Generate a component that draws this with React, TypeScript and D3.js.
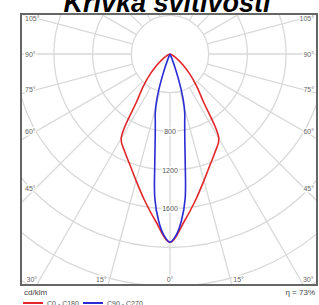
import { useEffect, useRef } from "react";
import * as d3 from "d3";

// Luminous intensity (cd/klm) per gamma angle, 0° = straight down
const redAngles = [0, 5, 10, 15, 20, 25, 30, 35, 40, 45, 50, 55, 60, 65, 70, 75, 80, 85, 90];
const redValues = [1945, 1730, 1530, 1355, 1215, 1110, 1010, 600, 420, 280, 170, 100, 50, 25, 12, 5, 0, 0, 0];

const blueAngles = [0, 2, 4, 6, 8, 10, 12, 14, 16, 18, 20, 22, 24, 26, 30, 90];
const blueValues = [1945, 1870, 1720, 1500, 1130, 880, 730, 630, 500, 330, 170, 60, 10, 0, 0, 0];

const ringValues = [400, 800, 1200, 1600, 2000, 2400, 2800];
const ringLabels = [800, 1200, 1600];
const spokeAngles = [15, 30, 45, 60, 75, 90, 105, 120, 135, 150, 165, 180];
const sideLabels = [105, 90, 75, 60, 45];
const bottomLabels = [30, 15, 0];

const series = [
  { label: "C0 - C180", color: "#e3262b", angles: redAngles, values: redValues },
  { label: "C90 - C270", color: "#2b2bd6", angles: blueAngles, values: blueValues },
];

export default function App() {
  const svgRef = useRef<SVGSVGElement>(null);

  useEffect(() => {
    if (!svgRef.current) return;
    const width = 319;
    const height = 305;
    const svg = d3.select(svgRef.current);
    svg.selectAll("*").remove();
    svg.attr("width", width).attr("height", height);

    const frame = { left: 21, top: 14, right: 317, bottom: 285 };
    const cx = 170;
    const cy = 54;
    const r = d3.scaleLinear().domain([0, 400]).range([0, 38.7]);
    const font = "'Liberation Sans', Arial, sans-serif";

    svg
      .append("clipPath")
      .attr("id", "frameClip")
      .append("rect")
      .attr("x", frame.left)
      .attr("y", frame.top)
      .attr("width", frame.right - frame.left)
      .attr("height", frame.bottom - frame.top);

    // Title (cut off at the top)
    svg
      .append("text")
      .attr("x", 167)
      .attr("y", 12)
      .attr("text-anchor", "middle")
      .attr("font-family", font)
      .attr("font-weight", "bold")
      .attr("font-style", "italic")
      .attr("font-size", "27px")
      .attr("fill", "#000")
      .text("Křivka svítivosti");

    const plot = svg.append("g").attr("clip-path", "url(#frameClip)");
    const g = plot.append("g").attr("transform", `translate(${cx},${cy})`);

    // Rings
    g.selectAll("circle.ring")
      .data(ringValues)
      .join("circle")
      .attr("class", "ring")
      .attr("r", (d) => r(d))
      .attr("fill", "none")
      .attr("stroke", "#d9d9d9")
      .attr("stroke-width", 1.3);

    // Spokes, both sides, starting at the first ring
    const toRad = (deg: number) => (deg * Math.PI) / 180;
    const spokes = spokeAngles.flatMap((a) => [a, -a]);
    spokes.push(0);
    g.selectAll("line.spoke")
      .data(spokes)
      .join("line")
      .attr("class", "spoke")
      .attr("x1", (a) => -r(400) * Math.sin(toRad(a)))
      .attr("y1", (a) => r(400) * Math.cos(toRad(a)))
      .attr("x2", (a) => -400 * Math.sin(toRad(a)))
      .attr("y2", (a) => 400 * Math.cos(toRad(a)))
      .attr("stroke", "#d9d9d9")
      .attr("stroke-width", 1.3);

    // Ring value labels on the 0° axis
    g.selectAll("text.ringLabel")
      .data(ringLabels)
      .join("text")
      .attr("class", "ringLabel")
      .attr("x", 0)
      .attr("y", (d) => r(d) + 2.5)
      .attr("text-anchor", "middle")
      .attr("font-family", font)
      .attr("font-size", "7px")
      .attr("fill", "#555")
      .attr("stroke", "#fff")
      .attr("stroke-width", 3)
      .attr("paint-order", "stroke")
      .text((d) => d);

    // Curves
    const line = d3
      .lineRadial<[number, number]>()
      .angle((d) => d[0])
      .radius((d) => r(d[1]))
      .curve(d3.curveCatmullRom.alpha(0.5));

    series.forEach((s) => {
      const left: [number, number][] = s.angles
        .map((a, i) => [Math.PI + toRad(a), s.values[i]] as [number, number])
        .reverse();
      const right: [number, number][] = s.angles
        .slice(1)
        .map((a, i) => [Math.PI - toRad(a), s.values[i + 1]] as [number, number]);
      g.append("path")
        .attr("d", line([...left, ...right]))
        .attr("fill", "none")
        .attr("stroke", s.color)
        .attr("stroke-width", 1.6);
    });

    // Angle labels on the sides
    const labelStyle = (sel: d3.Selection<SVGTextElement, number, SVGGElement, unknown>) =>
      sel
        .attr("font-family", font)
        .attr("font-size", "7px")
        .attr("fill", "#666")
        .attr("stroke", "#fff")
        .attr("stroke-width", 3)
        .attr("paint-order", "stroke")
        .text((d) => `${d}°`);

    const sideDist = cx - 36;
    const sideY = (a: number) =>
      Math.max(frame.top + 4, cy + sideDist / Math.tan(toRad(a)));
    const labels = svg.append("g");
    labels
      .selectAll("text.leftLabel")
      .data(sideLabels)
      .join("text")
      .attr("class", "leftLabel")
      .attr("x", frame.left + 4)
      .attr("y", (a) => sideY(a) + 2.5)
      .call(labelStyle);
    labels
      .selectAll("text.rightLabel")
      .data(sideLabels)
      .join("text")
      .attr("class", "rightLabel")
      .attr("x", frame.right - 3)
      .attr("y", (a) => sideY(a) + 2.5)
      .attr("text-anchor", "end")
      .call(labelStyle);

    const bottomY = 279;
    const bottomX = (a: number) => (bottomY - cy) * Math.tan(toRad(a));
    labels
      .selectAll("text.bottomLeft")
      .data(bottomLabels)
      .join("text")
      .attr("class", "bottomLeft")
      .attr("x", (a) => (a === 0 ? cx : cx - bottomX(a) - 3))
      .attr("y", bottomY + 2.5)
      .attr("text-anchor", (a) => (a === 0 ? "middle" : "end"))
      .call(labelStyle);
    labels
      .selectAll("text.bottomRight")
      .data(bottomLabels.filter((a) => a > 0))
      .join("text")
      .attr("class", "bottomRight")
      .attr("x", (a) => cx + bottomX(a) + 3)
      .attr("y", bottomY + 2.5)
      .call(labelStyle);

    // Frame
    svg
      .append("rect")
      .attr("x", frame.left)
      .attr("y", frame.top)
      .attr("width", frame.right - frame.left)
      .attr("height", frame.bottom - frame.top)
      .attr("fill", "none")
      .attr("stroke", "#666")
      .attr("stroke-width", 2);

    // Footer
    svg
      .append("text")
      .attr("x", frame.left + 3)
      .attr("y", 295)
      .attr("font-family", font)
      .attr("font-size", "8px")
      .attr("fill", "#444")
      .text("cd/klm");
    svg
      .append("text")
      .attr("x", frame.right - 2)
      .attr("y", 295)
      .attr("text-anchor", "end")
      .attr("font-family", font)
      .attr("font-size", "8px")
      .attr("fill", "#444")
      .text("η = 73%");

    const legendX = [23, 83];
    series.forEach((s, i) => {
      svg
        .append("line")
        .attr("x1", legendX[i])
        .attr("x2", legendX[i] + 20)
        .attr("y1", 303)
        .attr("y2", 303)
        .attr("stroke", s.color)
        .attr("stroke-width", 2);
      svg
        .append("text")
        .attr("x", legendX[i] + 24)
        .attr("y", 306)
        .attr("font-family", font)
        .attr("font-size", "7px")
        .attr("fill", "#555")
        .text(s.label);
    });
  }, []);

  return (
    <svg
      ref={svgRef}
      style={{ position: "absolute", left: 0, top: 0, background: "#fff" }}
    />
  );
}
